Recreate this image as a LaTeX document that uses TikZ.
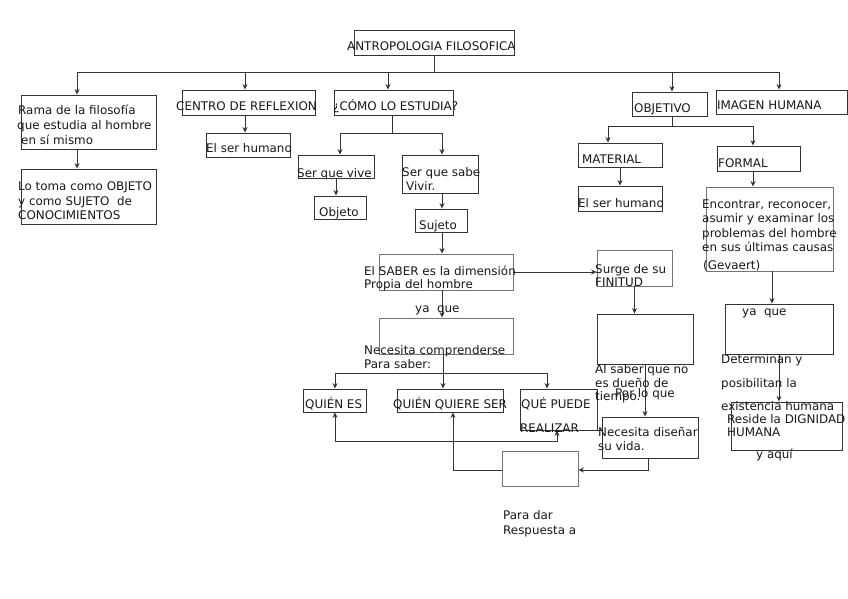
\documentclass[tikz,border=0pt]{standalone}
\usepackage{fontspec}
\setmainfont{DejaVu Sans}
\usetikzlibrary{arrows.meta,fit}
\begin{document}
\begin{tikzpicture}[x=1pt,y=-1pt,
  box/.style={draw=black!80, line width=0.9pt, inner sep=0pt},
  lbox/.style={draw=black!55, line width=0.9pt, inner sep=0pt},
  txt/.style={anchor=base west, inner sep=0pt, text=black!90, font=\fontsize{11.9}{14.5}\selectfont},
  ln/.style={draw=black!80, line width=0.9pt},
  arr/.style={ln, -{Stealth[length=5.5pt,width=5pt]}},
  darr/.style={ln, {Stealth[length=5.5pt,width=5pt]}-{Stealth[length=5.5pt,width=5pt]}}]
\useasboundingbox[fill=white] (0,0) rectangle (848,599);
% boxes
\node[box,fit={(354,30)(514,55)}] (title) {};
\node[box,fit={(21,95)(156,149)}] (rama) {};
\node[box,fit={(21,169)(156,224)}] (lotoma) {};
\node[box,fit={(182,90)(315,115)}] (centro) {};
\node[box,fit={(206,133)(290,157)}] (hum1) {};
\node[box,fit={(334,90)(453,115)}] (como) {};
\node[box,fit={(298,155)(374,178)}] (vive) {};
\node[box,fit={(314,196)(366,219)}] (objeto) {};
\node[box,fit={(402,155)(478,193)}] (sabe) {};
\node[box,fit={(415,209)(467,232)}] (sujeto) {};
\node[lbox,fit={(379,254)(513,290)}] (saber) {};
\node[lbox,fit={(379,318)(513,354)}] (comp) {};
\node[box,fit={(303,389)(366,412)}] (quienes) {};
\node[box,fit={(397,389)(503,412)}] (qqs) {};
\node[box,fit={(520,389)(597,430)}] (qpr) {};
\node[lbox,fit={(597,250)(672,286)}] (surge) {};
\node[box,fit={(597,314)(693,364)}] (alsaber) {};
\node[box,fit={(602,417)(698,458)}] (disenar) {};
\node[lbox,fit={(502,451)(578,486)}] (paradar) {};
\node[box,fit={(632,92)(707,116)}] (objetivo) {};
\node[box,fit={(716,90)(847,114)}] (imagen) {};
\node[box,fit={(578,143)(662,167)}] (material) {};
\node[box,fit={(578,186)(662,211)}] (hum2) {};
\node[box,fit={(717,146)(800,171)}] (formal) {};
\node[lbox,fit={(706,187)(833,271)}] (encontrar) {};
\node[box,fit={(725,304)(833,354)}] (yaque) {};
\node[box,fit={(731,402)(842,450)}] (reside) {};
% junction coordinates
\coordinate (b0) at (434,72);
\coordinate (bA) at (77,72);
\coordinate (bB) at (245,72);
\coordinate (bC) at (388,72);
\coordinate (bD) at (672,72);
\coordinate (bE) at (779,72);
\coordinate (c0) at (392,133);
\coordinate (cL) at (340,133);
\coordinate (cR) at (442,133);
\coordinate (q0) at (443,373);
\coordinate (qL) at (335,373);
\coordinate (qR) at (547,373);
\coordinate (e0) at (648,470);
\coordinate (f0) at (453,470);
\coordinate (g0) at (335,441);
\coordinate (g1) at (557,441);
\coordinate (h0) at (672,126);
\coordinate (hL) at (608,126);
\coordinate (hR) at (753,126);
\coordinate (kx) at (772,0);
% connectors
\draw[ln] (title.south) -- (b0);
\draw[ln] (bA) -- (bE);
\draw[arr] (bA) -- (bA |- rama.north);
\draw[arr] (bB) -- (bB |- centro.north);
\draw[arr] (bC) -- (bC |- como.north);
\draw[arr] (bD) -- (bD |- objetivo.north);
\draw[arr] (bE) -- (bE |- imagen.north);
\draw[arr] (bA |- rama.south) -- (bA |- lotoma.north);
\draw[arr] (bB |- centro.south) -- (bB |- hum1.north);
\draw[ln] (c0 |- como.south) -- (c0);
\draw[ln] (cL) -- (cR);
\draw[arr] (cL) -- (cL |- vive.north);
\draw[arr] (cR) -- (cR |- sabe.north);
\draw[arr] (vive.south) -- (vive.south |- objeto.north);
\draw[arr] (cR |- sabe.south) -- (cR |- sujeto.north);
\draw[arr] (cR |- sujeto.south) -- (cR |- saber.north);
\draw[arr] (saber.east) -- (saber.east -| surge.west);
\draw[arr] (cR |- saber.south) -- (cR |- comp.north);
\draw[ln] (q0 |- comp.south) -- (q0);
\draw[ln] (qL) -- (qR);
\draw[arr] (qL) -- (qL |- quienes.north);
\draw[arr] (q0) -- (q0 |- qqs.north);
\draw[arr] (qR) -- (qR |- qpr.north);
\draw[arr] (surge.south) -- (surge.south |- alsaber.north);
\draw[arr] (alsaber.south) -- (alsaber.south |- disenar.north);
\draw[arr] (disenar.south -| e0) -- (e0) -- (e0 -| paradar.east);
\draw[arr] (paradar.west |- f0) -- (f0) -- (f0 |- qqs.south);
\draw[darr] (g0 |- quienes.south) -- (g0) -- (g1) -- (g1 |- qpr.south);
\draw[ln] (qpr.south east) -- (qpr.south east -| disenar.west);
\draw[ln] (h0 |- objetivo.south) -- (h0);
\draw[ln] (hL) -- (hR);
\draw[arr] (hL) -- (hL |- material.north);
\draw[arr] (hR) -- (hR |- formal.north);
\draw[arr] (material.south) -- (material.south |- hum2.north);
\draw[arr] (hR |- formal.south) -- (hR |- encontrar.north);
\draw[arr] (kx |- encontrar.south) -- (kx |- yaque.north);
\draw[arr] (yaque.south) -- (yaque.south |- reside.north);
% texts
\node[txt] (t-title) at (347,51) {ANTROPOLOGIA FILOSOFICA};
\node[txt] (t-rama1) at (18,115) {Rama de la filosofía};
\node[txt] (t-rama2) at (17,130) {que estudia al hombre};
\node[txt] (t-rama3) at (21,144) {en sí mismo};
\node[txt] (t-lot1) at (18,190) {Lo toma como OBJETO};
\node[txt] (t-lot2) at (18,205) {y como SUJETO\ \ de};
\node[txt] (t-lot3) at (18,219) {CONOCIMIENTOS};
\node[txt] (t-centro) at (176,111) {CENTRO DE REFLEXION};
\node[txt] (t-hum1) at (206,152) {El ser humano};
\node[txt] (t-como) at (333,111) {¿CÓMO LO ESTUDIA?};
\node[txt] (t-vive) at (297,177) {Ser que vive};
\node[txt] (t-objeto) at (319,216) {Objeto};
\node[txt] (t-sabe1) at (402,176) {Ser que sabe};
\node[txt] (t-sabe2) at (406,190) {Vivir.};
\node[txt] (t-sujeto) at (419,229) {Sujeto};
\node[txt] (t-saber1) at (364,275) {El SABER es la dimensión};
\node[txt] (t-saber2) at (364,288) {Propia del hombre};
\node[txt] (t-ya1) at (415,312) {ya\ \ que};
\node[txt] (t-comp1) at (364,354) {Necesita comprenderse};
\node[txt] (t-comp2) at (364,368) {Para saber:};
\node[txt] (t-quienes) at (305,408) {QUIÉN ES};
\node[txt] (t-qqs) at (393,408) {QUIÉN QUIERE SER};
\node[txt] (t-qpr1) at (521,408) {QUÉ PUEDE};
\node[txt] (t-qpr2) at (520,432) {REALIZAR};
\node[txt] (t-surge1) at (595,273) {Surge de su};
\node[txt] (t-surge2) at (595,286) {FINITUD};
\node[txt] (t-als1) at (595,373) {Al saber que no};
\node[txt] (t-als2) at (595,387) {es dueño de};
\node[txt] (t-als3) at (595,400) {tiempo.};
\node[txt] (t-porlo) at (615,397) {Por lo que};
\node[txt] (t-dis1) at (598,436) {Necesita diseñar};
\node[txt] (t-dis2) at (598,450) {su vida.};
\node[txt] (t-para1) at (503,519) {Para dar};
\node[txt] (t-para2) at (503,534) {Respuesta a};
\node[txt] (t-objetivo) at (634,113) {OBJETIVO};
\node[txt] (t-imagen) at (717,110) {IMAGEN HUMANA};
\node[txt] (t-material) at (582,163) {MATERIAL};
\node[txt] (t-hum2) at (578,207) {El ser humano};
\node[txt] (t-formal) at (718,167) {FORMAL};
\node[txt] (t-enc1) at (702,208) {Encontrar, reconocer,};
\node[txt] (t-enc2) at (702,222) {asumir y examinar los};
\node[txt] (t-enc3) at (702,237) {problemas del hombre};
\node[txt] (t-enc4) at (702,251) {en sus últimas causas};
\node[txt] (t-enc5) at (703,269) {(Gevaert)};
\node[txt] (t-ya2) at (742,315) {ya\ \ que};
\node[txt] (t-det1) at (721,363) {Determinan y};
\node[txt] (t-det2) at (721,387) {posibilitan la};
\node[txt] (t-det3) at (721,410) {existencia humana};
\node[txt] (t-res1) at (727,423) {Reside la DIGNIDAD};
\node[txt] (t-res2) at (727,436) {HUMANA};
\node[txt] (t-yaqui) at (756,458) {y aquí};
\end{tikzpicture}
\end{document}
